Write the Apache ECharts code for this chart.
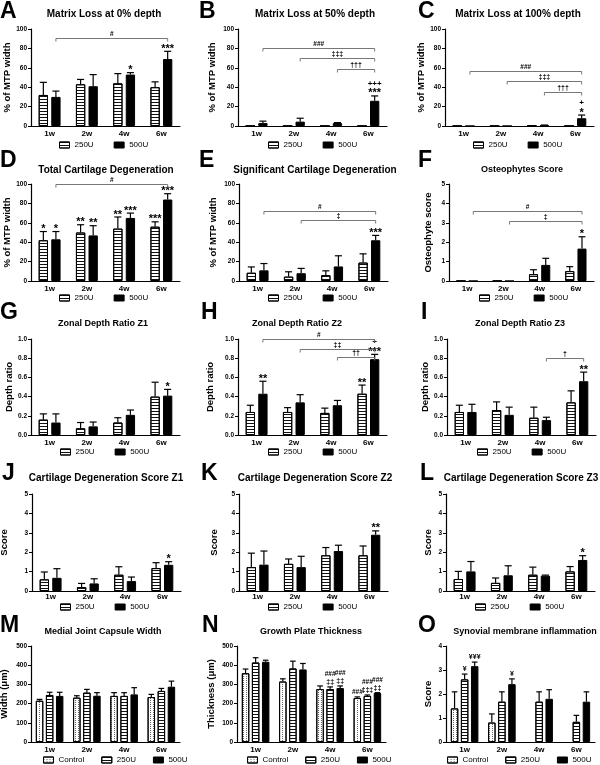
<!DOCTYPE html>
<html>
<head>
<meta charset="utf-8">
<script src="https://cdn.jsdelivr.net/npm/echarts@6/dist/echarts.min.js"></script>
<style>
  html, body { margin: 0; padding: 0; background: #fff; }
  #chart { width: 600px; height: 765px; }
</style>
</head>
<body>
<div id="chart"></div>
<script>
const FONT = '"Liberation Sans", Arial, sans-serif';
const weeks = ['1w', '2w', '4w', '6w'];

// stars: [week, group, labels bottom -> top]
// sig brackets: [from week, to week, height, label]

// A  Matrix loss at 0% depth
const aMean250 = [32, 43, 44, 40];
const aSd250 = [13, 5, 10, 5.5];
const aMean500 = [30, 41, 53, 69];
const aSd500 = [6, 12, 2, 8];
const aStars = [[2, 1, ['*']], [3, 1, ['***']]];
const aSig = [[0, 3, 91, '#']];

// B  Matrix loss at 50% depth
const bMean250 = [0, 0, 0, 0];
const bSd250 = [0, 0, 0, 0];
const bMean500 = [3, 4.5, 3, 26];
const bSd500 = [2, 3.5, 0.5, 5];
const bStars = [[3, 1, ['***', '+++']]];
const bSig = [[0, 3, 80, '###'], [1, 3, 70, '‡‡‡'], [2, 3, 59, '†††']];

// C  Matrix loss at 100% depth
const cMean250 = [0, 0, 0.3, 0];
const cSd250 = [0, 0, 0, 0];
const cMean500 = [0, 0, 0.8, 8];
const cSd500 = [0, 0, 0.2, 3.3];
const cStars = [[3, 1, ['*', '+']]];
const cSig = [[0, 3, 57, '###'], [1, 3, 46, '‡‡‡'], [2, 3, 35, '†††']];

// D  Total cartilage degeneration
const dMean250 = [42, 50, 54, 56];
const dSd250 = [9, 8, 12, 5];
const dMean500 = [43, 47, 65, 84];
const dSd500 = [8, 10, 5, 6];
const dStars = [[0, 0, ['*']], [0, 1, ['*']], [1, 0, ['**']], [1, 1, ['**']],
                [2, 0, ['**']], [2, 1, ['***']], [3, 0, ['***']], [3, 1, ['***']]];
const dSig = [[0, 3, 100.5, '#']];

// E  Significant cartilage degeneration
const eMean250 = [8.5, 4.5, 6, 19];
const eSd250 = [6, 5, 4.5, 9];
const eMean500 = [11, 8, 15, 42];
const eSd500 = [7, 5, 11, 5];
const eStars = [[3, 1, ['***']]];
const eSig = [[0, 3, 72.5, '#'], [1, 3, 63, '‡']];

// F  Osteophytes score
const fMean250 = [0, 0, 0.35, 0.51];
const fSd250 = [0, 0, 0.23, 0.23];
const fMean500 = [0, 0, 0.83, 1.67];
const fSd500 = [0, 0, 0.34, 0.61];
const fStars = [[3, 1, ['*']]];
const fSig = [[0, 3, 3.6, '#'], [1, 3, 3.1, '‡']];

// G  Zonal depth ratio Z1
const gMean250 = [0.16, 0.07, 0.13, 0.40];
const gSd250 = [0.06, 0.06, 0.05, 0.15];
const gMean500 = [0.13, 0.09, 0.21, 0.41];
const gSd500 = [0.09, 0.045, 0.05, 0.065];
const gStars = [[3, 1, ['*']]];
const gSig = [];

// H  Zonal depth ratio Z2
const hMean250 = [0.24, 0.24, 0.23, 0.43];
const hSd250 = [0.07, 0.045, 0.05, 0.09];
const hMean500 = [0.43, 0.34, 0.31, 0.79];
const hSd500 = [0.13, 0.08, 0.05, 0.05];
const hStars = [[0, 1, ['**']], [3, 0, ['**']], [3, 1, ['***', '+']]];
const hSig = [[0, 3, 1.0, '#'], [1, 3, 0.9, '‡‡'], [2, 3, 0.81, '††']];

// I  Zonal depth ratio Z3
const iMean250 = [0.24, 0.26, 0.18, 0.34];
const iSd250 = [0.07, 0.085, 0.11, 0.12];
const iMean500 = [0.24, 0.21, 0.155, 0.56];
const iSd500 = [0.08, 0.08, 0.03, 0.095];
const iStars = [[3, 1, ['**']]];
const iSig = [[2, 3, 0.8, '†']];

// J  Cartilage degeneration score Z1
const jMean250 = [0.6, 0.2, 0.84, 1.18];
const jSd250 = [0.38, 0.19, 0.41, 0.28];
const jMean500 = [0.68, 0.39, 0.51, 1.35];
const jSd500 = [0.47, 0.24, 0.21, 0.16];
const jStars = [[3, 1, ['*']]];
const jSig = [];

// K  Cartilage degeneration score Z2
const kMean250 = [1.23, 1.40, 1.84, 1.84];
const kSd250 = [0.72, 0.25, 0.4, 0.48];
const kMean500 = [1.36, 1.23, 2.06, 2.9];
const kSd500 = [0.7, 0.56, 0.3, 0.2];
const kStars = [[3, 1, ['**']]];
const kSig = [];

// L  Cartilage degeneration score Z3
const lMean250 = [0.62, 0.42, 0.84, 1.01];
const lSd250 = [0.39, 0.25, 0.39, 0.25];
const lMean500 = [1.01, 0.81, 0.79, 1.6];
const lSd500 = [0.51, 0.49, 0.03, 0.22];
const lStars = [[3, 1, ['*']]];
const lSig = [];

// M  Medial joint capsule width
const mMeanCtrl = [215, 231, 240, 234];
const mSdCtrl = [7, 10, 17, 14];
const mMean250 = [245, 257, 240, 266];
const mSd250 = [14, 17, 17, 13];
const mMean500 = [240, 241, 248, 288];
const mSd500 = [19, 16, 35, 29];
const mStars = [];
const mSig = [];

// N  Growth plate thickness
const nMeanCtrl = [358, 315, 276, 229];
const nSdCtrl = [22, 14, 16, 6];
const nMean250 = [414, 383, 276, 240];
const nSd250 = [25, 38, 11, 5];
const nMean500 = [418, 378, 281, 255];
const nSd500 = [8, 31, 11, 2];
const nStars = [[2, 1, ['‡‡', '###']], [2, 2, ['‡‡', '###']], [3, 0, ['###']],
                [3, 1, ['‡‡‡', '###']], [3, 2, ['‡‡', '###']]];
const nSig = [];

// O  Synovial membrane inflammation
const oMeanCtrl = [1.40, 0.81, null, null];
const oSdCtrl = [0.69, 0.36, null, null];
const oMean250 = [2.61, 1.68, 1.68, 0.84];
const oSd250 = [0.22, 0.41, 0.41, 0.27];
const oMean500 = [3.16, 2.41, 1.8, 1.68];
const oSd500 = [0.17, 0.22, 0.38, 0.41];
const oStars = [[0, 1, ['¥']], [0, 2, ['¥¥¥']], [1, 2, ['¥']]];
const oSig = [];

const two = ['250U', '500U'];
const three = ['Control', '250U', '500U'];

const rows = [
  { top: 29, bottom: 126, letterY: 11.5, titleY: 14, legendY: 146, labelMargin: 4 },
  { top: 184, bottom: 281, letterY: 161, titleY: 170, legendY: 299, labelMargin: 4 },
  { top: 339, bottom: 435, letterY: 312.5, titleY: 324, legendY: 453, labelMargin: 4 },
  { top: 494, bottom: 591, letterY: 473.5, titleY: 478, legendY: 608, labelMargin: 2 },
  { top: 646, bottom: 742, letterY: 625.5, titleY: 632, legendY: 761, labelMargin: 4 }
];

const panels = [
  { letter: 'A', title: 'Matrix Loss at 0% depth', yName: '% of MTP width', max: 100, step: 20,
    groups: two, means: [aMean250, aMean500], sds: [aSd250, aSd500], stars: aStars, sig: aSig,
    row: 0, left: 31, letterX: 0, titleX: 104, titleSize: 10, legendLeft: 59, nameGap: 18.5 },
  { letter: 'B', title: 'Matrix Loss at 50% depth', yName: '% of MTP width', max: 100, step: 20,
    groups: two, means: [bMean250, bMean500], sds: [bSd250, bSd500], stars: bStars, sig: bSig,
    row: 0, left: 238, letterX: 199, titleX: 315, titleSize: 10, legendLeft: 268, nameGap: 21 },
  { letter: 'C', title: 'Matrix Loss at 100% depth', yName: '% of MTP width', max: 100, step: 20,
    groups: two, means: [cMean250, cMean500], sds: [cSd250, cSd500], stars: cStars, sig: cSig,
    row: 0, left: 445, letterX: 418, titleX: 518, titleSize: 10, legendLeft: 473, nameGap: 14 },
  { letter: 'D', title: 'Total Cartilage Degeneration', yName: '% of MTP width', max: 100, step: 20,
    groups: two, means: [dMean250, dMean500], sds: [dSd250, dSd500], stars: dStars, sig: dSig,
    row: 1, left: 31, letterX: 0, titleX: 106, titleSize: 10, legendLeft: 59, nameGap: 18.5 },
  { letter: 'E', title: 'Significant Cartilage Degeneration', yName: '% of MTP width', max: 100, step: 20,
    groups: two, means: [eMean250, eMean500], sds: [eSd250, eSd500], stars: eStars, sig: eSig,
    row: 1, left: 239, letterX: 199, titleX: 315, titleSize: 10, legendLeft: 268, nameGap: 21 },
  { letter: 'F', title: 'Osteophytes Score', yName: 'Osteophyte score', max: 5, step: 1,
    groups: two, means: [fMean250, fMean500], sds: [fSd250, fSd500], stars: fStars, sig: fSig,
    row: 1, left: 449, width: 145, letterX: 418, titleX: 522, titleSize: 9, legendLeft: 479, nameGap: 16 },
  { letter: 'G', title: 'Zonal Depth Ratio Z1', yName: 'Depth ratio', max: 1, step: 0.2, decimals: 1,
    groups: two, means: [gMean250, gMean500], sds: [gSd250, gSd500], stars: gStars, sig: gSig,
    row: 2, left: 31, letterX: 0, titleX: 103, titleSize: 9, legendLeft: 60, nameGap: 16 },
  { letter: 'H', title: 'Zonal Depth Ratio Z2', yName: 'Depth ratio', max: 1, step: 0.2, decimals: 1,
    groups: two, means: [hMean250, hMean500], sds: [hSd250, hSd500], stars: hStars, sig: hSig,
    row: 2, left: 238, letterX: 201, titleX: 297, titleSize: 9, legendLeft: 268, nameGap: 23 },
  { letter: 'I', title: 'Zonal Depth Ratio Z3', yName: 'Depth ratio', max: 1, step: 0.2, decimals: 1,
    groups: two, means: [iMean250, iMean500], sds: [iSd250, iSd500], stars: iStars, sig: iSig,
    row: 2, left: 447, letterX: 421, titleX: 520, titleSize: 9, legendLeft: 477, nameGap: 15 },
  { letter: 'J', title: 'Cartilage Degeneration Score Z1', yName: 'Score', max: 5, step: 1,
    groups: two, means: [jMean250, jMean500], sds: [jSd250, jSd500], stars: jStars, sig: jSig,
    row: 3, left: 32, letterX: 2, titleX: 106, titleSize: 10, legendLeft: 60, nameGap: 23 },
  { letter: 'K', title: 'Cartilage Degeneration Score Z2', yName: 'Score', max: 5, step: 1,
    groups: two, means: [kMean250, kMean500], sds: [kSd250, kSd500], stars: kStars, sig: kSig,
    row: 3, left: 239, letterX: 201, titleX: 315, titleSize: 10, legendLeft: 268, nameGap: 20 },
  { letter: 'L', title: 'Cartilage Degeneration Score Z3', yName: 'Score', max: 5, step: 1,
    groups: two, means: [lMean250, lMean500], sds: [lSd250, lSd500], stars: lStars, sig: lSig,
    row: 3, left: 446, letterX: 420, titleX: 521, titleSize: 10, legendLeft: 475, nameGap: 13 },
  { letter: 'M', title: 'Medial Joint Capsule Width', yName: 'Width (μm)', max: 500, step: 100,
    groups: three, means: [mMeanCtrl, mMean250, mMean500], sds: [mSdCtrl, mSd250, mSd500], stars: mStars, sig: mSig,
    row: 4, left: 31, letterX: 0, titleX: 103, titleSize: 9, legendLeft: 43, nameGap: 22 },
  { letter: 'N', title: 'Growth Plate Thickness', yName: 'Thickness (μm)', max: 500, step: 100,
    groups: three, means: [nMeanCtrl, nMean250, nMean500], sds: [nSdCtrl, nSd250, nSd500], stars: nStars, sig: nSig,
    row: 4, left: 237, letterX: 202, titleX: 311, titleSize: 9, legendLeft: 247, nameGap: 21 },
  { letter: 'O', title: 'Synovial membrane inflammation', yName: 'Score', max: 4, step: 1,
    groups: three, means: [oMeanCtrl, oMean250, oMean500], sds: [oSdCtrl, oSd250, oSd500], stars: oStars, sig: oSig,
    row: 4, left: 446, letterX: 418, titleX: 525, titleSize: 9, legendLeft: 447, nameGap: 13 }
];

const barStyles = {
  Control: { color: '#fff', borderColor: '#000', borderWidth: 1,
    decal: { symbol: 'rect', symbolSize: 1, dashArrayX: [1, 2], dashArrayY: [1, 1], color: '#666' } },
  '250U': { color: '#fff', borderColor: '#000', borderWidth: 1,
    decal: { symbol: 'rect', symbolSize: 1, dashArrayX: [1, 0], dashArrayY: [1, 2], color: '#111' } },
  '500U': { color: '#000', borderColor: '#000', borderWidth: 1 }
};

// size and vertical nudge for annotation glyphs
const glyphSize = { '*': 11, '+': 8, '#': 6.5, '‡': 7, '†': 7, '¥': 7 };
const glyphShift = { '*': 0.23 };

function barOffset(api, si, n) {
  const band = api.size([1, 0])[0];
  const bw = band * (n === 3 ? 0.2 : 0.25);
  return (si - (n - 1) / 2) * bw * 1.35;
}

function textEl(txt, x, y, size) {
  return {
    type: 'text',
    style: {
      text: txt, x: x, y: y, fill: '#000',
      font: 'bold ' + size + 'px ' + FONT,
      align: 'center', verticalAlign: 'middle',
      textAlign: 'center', textVerticalAlign: 'middle'
    }
  };
}

function errorSeries(p, gi, si, n) {
  const data = [];
  p.means[si].forEach((m, i) => {
    const sd = p.sds[si][i];
    if (m != null && sd) data.push([i, m, m + sd]);
  });
  return {
    type: 'custom', xAxisIndex: gi, yAxisIndex: gi, silent: true, z: 3, data: data,
    renderItem(params, api) {
      const band = api.size([1, 0])[0];
      const cap = band * (n === 3 ? 0.2 : 0.25) * 0.38;
      const base = api.coord([api.value(0), api.value(1)]);
      const top = api.coord([api.value(0), api.value(2)]);
      const x = base[0] + barOffset(api, si, n);
      const st = { stroke: '#000', lineWidth: 1.2 };
      return {
        type: 'group', children: [
          { type: 'line', shape: { x1: x, y1: base[1], x2: x, y2: top[1] }, style: st },
          { type: 'line', shape: { x1: x - cap, y1: top[1], x2: x + cap, y2: top[1] }, style: st }
        ]
      };
    }
  };
}

function starSeries(p, gi, n) {
  return {
    type: 'custom', xAxisIndex: gi, yAxisIndex: gi, silent: true, z: 4,
    data: p.stars.map(s => [s[0], p.means[s[1]][s[0]]]),
    renderItem(params, api) {
      const s = p.stars[params.dataIndex];
      const top = p.means[s[1]][s[0]] + (p.sds[s[1]][s[0]] || 0);
      const pt = api.coord([s[0], top]);
      const x = pt[0] + barOffset(api, s[1], n);
      return {
        type: 'group',
        children: s[2].map((txt, li) => {
          const g = txt.charAt(0);
          const fs = glyphSize[g] || 8;
          const cy = pt[1] - 5 - li * 7.5;
          return textEl(txt, x, cy + (glyphShift[g] || 0) * fs, fs);
        })
      };
    }
  };
}

function sigSeries(p, gi, n) {
  return {
    type: 'custom', xAxisIndex: gi, yAxisIndex: gi, silent: true, z: 4,
    data: p.sig.map(s => [s[0], s[2]]),
    renderItem(params, api) {
      const s = p.sig[params.dataIndex];
      const off = barOffset(api, n - 1, n);
      const a = api.coord([s[0], s[2]]);
      const b = api.coord([s[1], s[2]]);
      const x1 = a[0] + off, x2 = b[0] + off, y = Math.round(a[1]) + 0.5;
      return {
        type: 'group', children: [
          { type: 'polyline', shape: { points: [[x1, y + 3], [x1, y], [x2, y], [x2, y + 3]] },
            style: { stroke: '#777', lineWidth: 1, fill: 'none' } },
          textEl(s[3], (x1 + x2) / 2, y - 4.5, glyphSize[s[3].charAt(0)] || 7)
        ]
      };
    }
  };
}

const option = {
  animation: false,
  backgroundColor: '#fff',
  grid: [], xAxis: [], yAxis: [], series: [], legend: [], graphic: []
};

panels.forEach((p, gi) => {
  const r = rows[p.row];
  const n = p.groups.length;
  option.grid.push({
    left: p.left, top: r.top, width: p.width || 149, height: r.bottom - r.top,
    containLabel: false, outerBoundsMode: 'none'
  });
  option.xAxis.push({
    type: 'category', gridIndex: gi, data: weeks,
    axisLine: { show: true, lineStyle: { color: '#000', width: 1.2 } },
    axisTick: { show: false },
    axisLabel: { color: '#000', fontSize: 8, fontWeight: 'bold', fontFamily: FONT, margin: r.labelMargin },
    splitLine: { show: false }
  });
  option.yAxis.push({
    type: 'value', gridIndex: gi, min: 0, max: p.max, interval: p.step,
    name: p.yName, nameLocation: 'middle', nameGap: p.nameGap,
    nameTextStyle: { color: '#000', fontSize: 9.5, fontWeight: 'bold', fontFamily: FONT },
    axisLine: { show: true, lineStyle: { color: '#000', width: 1.2 } },
    axisTick: { show: true, length: 3, lineStyle: { color: '#000' } },
    axisLabel: {
      color: '#000', fontSize: 6.5, fontWeight: 'bold', fontFamily: FONT, margin: 4,
      formatter: v => p.decimals ? v.toFixed(p.decimals) : String(v)
    },
    splitLine: { show: false }
  });
  p.groups.forEach((g, si) => {
    option.series.push({
      type: 'bar', name: g, xAxisIndex: gi, yAxisIndex: gi, data: p.means[si],
      barWidth: n === 3 ? '20%' : '25%', barGap: '35%',
      itemStyle: barStyles[g], silent: true, z: 2
    });
  });
  p.groups.forEach((g, si) => option.series.push(errorSeries(p, gi, si, n)));
  if (p.stars.length) option.series.push(starSeries(p, gi, n));
  if (p.sig.length) option.series.push(sigSeries(p, gi, n));

  option.legend.push({
    left: p.legendLeft, top: r.legendY - 5, orient: 'horizontal', padding: 0,
    itemWidth: 10, itemHeight: 6, itemGap: n === 3 ? 17 : 20, icon: 'rect',
    selectedMode: false, data: p.groups,
    itemStyle: { borderColor: '#000', borderWidth: 1 },
    textStyle: { color: '#000', fontSize: 8, fontFamily: FONT }
  });

  option.graphic.push({
    type: 'text', x: p.letterX, y: r.letterY, silent: true,
    style: { text: p.letter, fill: '#000', font: 'bold 23px ' + FONT,
      align: 'left', verticalAlign: 'middle', textAlign: 'left', textVerticalAlign: 'middle' }
  });
  option.graphic.push({
    type: 'text', x: p.titleX, y: r.titleY, silent: true,
    style: { text: p.title, fill: '#000', font: 'bold ' + p.titleSize + 'px ' + FONT,
      align: 'center', verticalAlign: 'middle', textAlign: 'center', textVerticalAlign: 'middle' }
  });
});

const chart = echarts.init(document.getElementById('chart'), null, { renderer: 'canvas' });
chart.setOption(option);
</script>
</body>
</html>
